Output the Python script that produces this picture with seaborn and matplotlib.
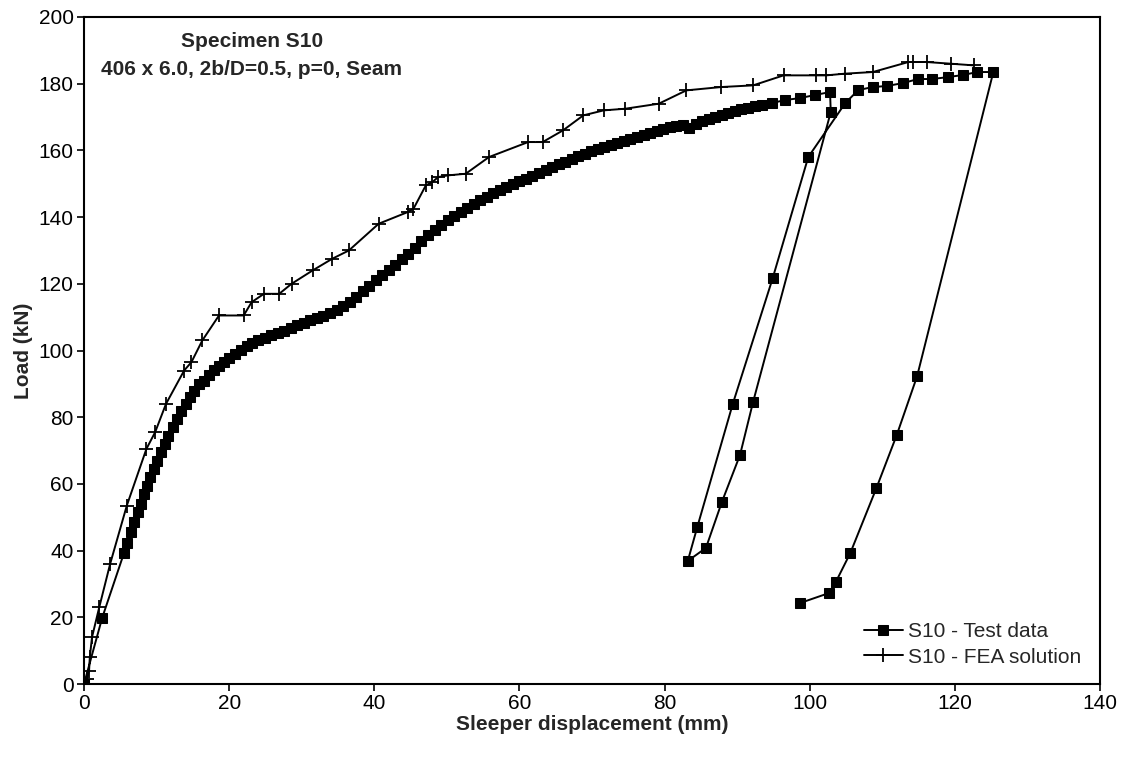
import matplotlib
matplotlib.use("Agg")
import matplotlib.pyplot as plt
import seaborn as sns
import pandas as pd

# ---------------- data ----------------
test_x = [0.0, 2.5, 5.5, 5.9, 6.5, 6.9, 7.4, 7.8, 8.3, 8.7, 9.1, 9.6, 10.1, 10.6, 11.1, 11.6,
          12.2, 12.8, 13.4, 14.0, 14.6, 15.2, 15.8, 16.5, 17.2, 17.9, 18.6, 19.3, 20.0, 20.8,
          21.6, 22.4, 23.2, 24.0, 24.9, 25.8, 26.7, 27.6, 28.5, 29.4, 30.3, 31.2, 32.1, 33.0,
          33.9, 34.8, 35.7, 36.6, 37.5, 38.4, 39.3, 40.2, 41.1, 42.0, 42.9, 43.8, 44.7, 45.6,
          46.5, 47.4, 48.3, 49.2, 50.1, 51.0, 51.9, 52.8, 53.7, 54.6, 55.5, 56.4, 57.3, 58.2,
          59.1, 60.0, 60.9, 61.8, 62.7, 63.6, 64.5, 65.4, 66.3, 67.2, 68.1, 69.0, 69.9, 70.8,
          71.7, 72.6, 73.5, 74.4, 75.3, 76.2, 77.1, 78.0, 78.9, 79.8, 80.7, 81.6, 82.5, 83.4,
          84.3, 85.2, 86.1, 87.0, 87.9, 88.8, 89.7, 90.6, 91.5, 92.4, 93.4, 94.8, 96.6, 98.7,
          100.7, 102.8,
          # first unloading / reloading loop
          102.9, 92.2, 90.4, 87.9, 85.7, 83.2, 84.5, 89.4, 94.9, 99.8, 104.9,
          # continued loading
          106.7, 108.7, 110.6, 112.9, 114.9, 116.9, 119.1, 121.1, 123.1, 125.3,
          # final unloading
          114.8, 112.0, 109.2, 105.6, 103.6, 102.7, 98.7]
test_y = [0.0, 19.8, 39.2, 42.3, 45.6, 48.6, 51.5, 54.0, 57.0, 59.5, 62.0, 64.5, 67.0, 69.5, 72.0, 74.5,
          77.0, 79.5, 82.0, 84.0, 86.0, 88.0, 90.0, 91.0, 92.7, 94.2, 95.4, 96.5, 97.7, 99.0,
          100.2, 101.3, 102.3, 103.1, 103.8, 104.5, 105.2, 105.8, 106.6, 107.5, 108.2, 109.0, 109.7, 110.4,
          111.1, 112.1, 113.2, 114.5, 116.0, 117.7, 119.4, 121.0, 122.6, 124.2, 125.7, 127.3, 129.0, 130.8,
          132.7, 134.5, 136.1, 137.6, 139.0, 140.3, 141.6, 142.8, 143.9, 145.0, 146.1, 147.1, 148.0, 148.9,
          149.8, 150.7, 151.5, 152.3, 153.1, 154.0, 154.9, 155.8, 156.6, 157.4, 158.2, 159.0, 159.8, 160.4,
          161.0, 161.6, 162.2, 162.8, 163.4, 164.0, 164.6, 165.2, 165.8, 166.4, 166.9, 167.3, 167.7, 166.6,
          168.0, 168.7, 169.4, 170.0, 170.6, 171.2, 171.8, 172.3, 172.8, 173.3, 173.7, 174.2, 175.1, 175.7,
          176.6, 177.5,
          171.5, 84.6, 68.7, 54.6, 40.8, 36.9, 47.0, 84.0, 121.7, 158.0, 174.2,
          178.1, 179.0, 179.3, 180.2, 181.4, 181.4, 182.0, 182.6, 183.5, 183.5,
          92.3, 74.7, 58.8, 39.3, 30.6, 27.3, 24.3]

fea_x = [0.0, 0.4, 0.7, 0.8, 1.1, 2.1, 3.6, 5.9, 8.6, 9.8, 11.3, 13.8, 14.8, 16.3, 18.6, 22.0,
         23.1, 24.8, 26.9, 28.6, 31.5, 34.2, 36.5, 40.6, 44.6, 45.4, 47.1, 48.0, 48.8, 50.1,
         52.6, 55.8, 61.2, 63.2, 66.0, 68.8, 71.6, 74.6, 79.2, 83.0, 87.8, 92.2, 96.4, 100.8,
         102.3, 104.8, 108.7, 113.6, 114.3, 116.1, 119.4, 122.6]
fea_y = [0.0, 1.5, 4.0, 8.0, 14.0, 23.0, 36.0, 53.5, 70.5, 75.5, 84.0, 94.0, 96.5, 103.0, 110.5, 110.5,
         114.5, 117.0, 117.0, 120.0, 124.0, 127.5, 130.0, 138.0, 141.5, 142.5, 149.5, 150.5, 152.0, 152.5,
         153.0, 158.0, 162.5, 162.5, 166.0, 170.5, 172.0, 172.5, 174.0, 178.0, 179.0, 179.5, 182.5, 182.5,
         182.5, 183.0, 183.5, 186.5, 186.5, 186.5, 186.0, 185.5]

x_ticks = [0, 20, 40, 60, 80, 100, 120, 140]
y_ticks = [0, 20, 40, 60, 80, 100, 120, 140, 160, 180, 200]

title_lines = ["Specimen S10", "406 x 6.0, 2b/D=0.5, p=0, Seam"]
series_names = ["S10 - Test data", "S10 - FEA solution"]

# ---------------- plot ----------------
sns.set_theme(style="ticks")
plt.rcParams["font.family"] = ["Liberation Sans", "DejaVu Sans"]

fig = plt.figure(figsize=(11.28, 7.57), dpi=100)
ax = fig.add_axes([84 / 1128, 1 - 684 / 757, (1100 - 84) / 1128, (684 - 17) / 757])

test_df = pd.DataFrame({"x": test_x, "y": test_y})
fea_df = pd.DataFrame({"x": fea_x, "y": fea_y})

sns.lineplot(data=test_df, x="x", y="y", sort=False, estimator=None, ax=ax,
             color="black", linewidth=1.4, marker="s", markersize=7.5,
             markeredgecolor="black", markerfacecolor="black", label=series_names[0])
sns.lineplot(data=fea_df, x="x", y="y", sort=False, estimator=None, ax=ax,
             color="black", linewidth=1.4, marker="+", markersize=10.5,
             markeredgewidth=1.3, markeredgecolor="black", label=series_names[1])

ax.set_xlim(0, 140)
ax.set_ylim(0, 200)
ax.set_xticks(x_ticks)
ax.set_yticks(y_ticks)
ax.tick_params(axis="both", direction="out", length=5, width=1.2, color="black",
               labelsize=15, labelcolor="black", pad=2.5)
for s in ax.spines.values():
    s.set_linewidth(1.5)
    s.set_color("black")
    s.set_visible(True)

ax.set_xlabel("Sleeper displacement (mm)", fontsize=15, fontweight="bold", labelpad=1)
ax.set_ylabel("Load (kN)", fontsize=15, fontweight="bold", labelpad=4)

ax.text(0.165, 0.963, title_lines[0], transform=ax.transAxes, ha="center", va="center",
        fontsize=15, fontweight="bold")
ax.text(0.165, 0.922, title_lines[1], transform=ax.transAxes, ha="center", va="center",
        fontsize=15, fontweight="bold")

leg = ax.legend(loc="lower right", frameon=False, fontsize=15, handlelength=1.9,
                handletextpad=0.25, labelspacing=0.3, borderaxespad=0.0, borderpad=0.0,
                bbox_to_anchor=(0.982, 0.026))

fig.savefig("out.png", dpi=100)
